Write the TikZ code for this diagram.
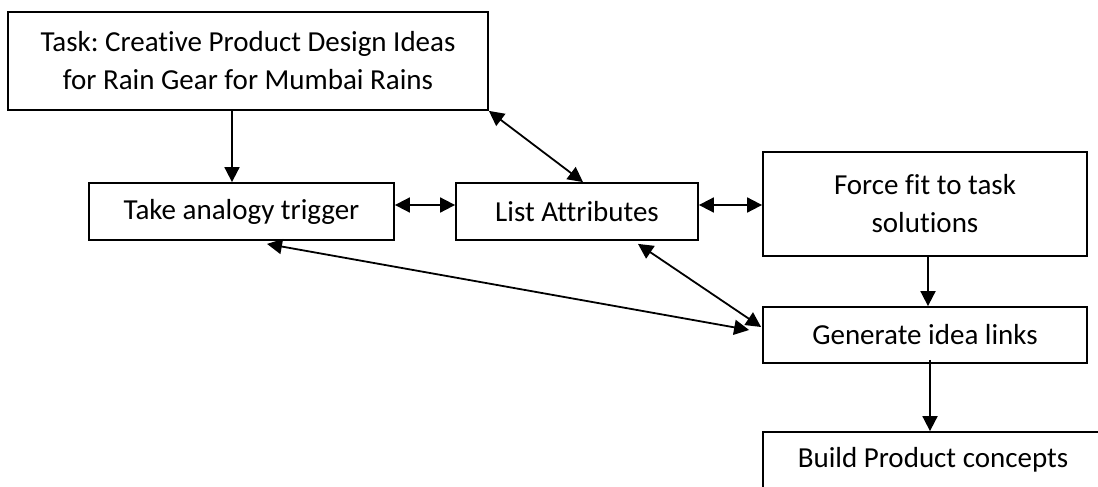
\documentclass[tikz,border=0pt]{standalone}
\usepackage{fontspec}
\setmainfont{Carlito}[Ligatures={NoCommon,NoContextual}]
\usetikzlibrary{arrows.meta}
\frenchspacing
\begin{document}
\begin{tikzpicture}[x=1pt,y=-1pt,
  box/.style={draw=black,line width=1.8pt,rectangle,inner sep=0pt,align=center,
    font=\fontsize{29}{38}\selectfont},
  tip/.tip={Triangle[length=15pt,width=15pt]},
  arr/.style={line width=1.8pt,-tip},
  dbl/.style={line width=1.8pt,tip-tip}]
  \path[use as bounding box] (0,0) rectangle (1098,487);
  \clip (0,0) rectangle (1098,487);

  % boxes
  \node[box,minimum width=480pt,minimum height=98pt] (task) at (248,61)
    {Task: Creative Product Design Ideas\\for Rain Gear for Mumbai Rains};
  \node[box,minimum width=305pt,minimum height=57pt] (take) at (241.5,211.5) {Take analogy trigger};
  \node[box,minimum width=242pt,minimum height=57pt] (list) at (577,211.5) {List Attributes};
  \node[box,minimum width=324pt,minimum height=104pt] (force) at (925,204) {Force fit to task\\solutions};
  \node[box,minimum width=324pt,minimum height=56pt] (gen) at (925,335) {Generate idea links};
  \node[box,minimum width=340pt,minimum height=56pt] (build) at (933,460) {Build Product concepts};

  % connectors
  \draw[arr] ([xshift=-16pt]task.south) -- ([xshift=-9.5pt]take.north);
  \draw[dbl] (task.south east) -- ([xshift=6pt]list.north);
  \draw[dbl] ([yshift=6.5pt]take.east) -- ([yshift=6.5pt]list.west);
  \draw[dbl] ([yshift=6.5pt]list.east) -- ([yshift=6.5pt]list.east -| force.west);
  \draw[dbl] ([xshift=25.5pt,yshift=-3pt]take.south) -- ([xshift=-13pt,yshift=5pt]gen.west);
  \draw[dbl] ([xshift=61pt,yshift=-3pt]list.south) -- ([xshift=-1pt,yshift=8pt]gen.west);
  \draw[arr] ([xshift=3pt]force.south) -- ([xshift=3pt]gen.north);
  \draw[arr] ([xshift=5pt,yshift=4pt]gen.south) -- ([xshift=5pt]gen.south |- build.north);
\end{tikzpicture}
\end{document}
